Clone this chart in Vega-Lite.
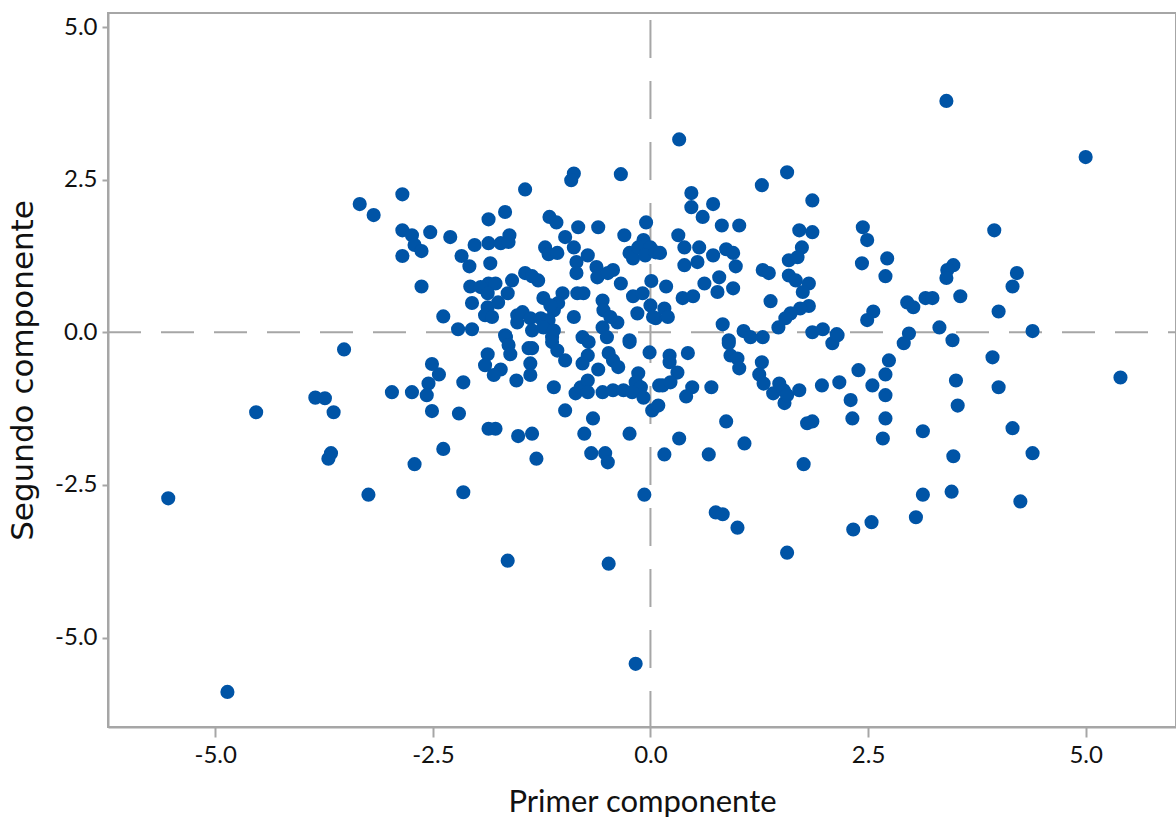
{"$schema":"https://vega.github.io/schema/vega-lite/v6.json","width":1068,"height":714,"autosize":"none","padding":{"left":108,"top":13,"right":0,"bottom":94},"background":"white","view":{"stroke":"#a6a6a6","strokeWidth":2,"fill":null},"config":{"axis":{"grid":false,"domainColor":"#a6a6a6","domainWidth":2,"tickColor":"#a6a6a6","tickWidth":2,"labelFont":"Lato","labelFontSize":24,"labelColor":"#111111","titleColor":"#111111","titleFontWeight":"normal"}},"layer":[{"data":{"values":[{"x":0}]},"mark":{"type":"rule","stroke":"#a6a6a6","strokeWidth":2,"strokeDash":[38,23],"strokeDashOffset":54},"encoding":{"x":{"field":"x","type":"quantitative","scale":{"domain":[-6.232,6.038],"nice":false,"zero":false}}}},{"data":{"values":[{"y":0}]},"mark":{"type":"rule","stroke":"#a6a6a6","strokeWidth":2,"strokeDash":[33,20],"strokeDashOffset":25},"encoding":{"y":{"field":"y","type":"quantitative","scale":{"domain":[-6.465,5.23],"nice":false,"zero":false}}}},{"data":{"values":[{"x":-3.34,"y":2.1},{"x":-3.18,"y":1.92},{"x":-2.85,"y":2.26},{"x":-2.85,"y":1.67},{"x":-2.74,"y":1.59},{"x":-2.53,"y":1.64},{"x":-2.71,"y":1.43},{"x":-2.63,"y":1.33},{"x":-2.85,"y":1.25},{"x":-2.3,"y":1.56},{"x":-2.17,"y":1.25},{"x":-2.08,"y":1.08},{"x":-2.63,"y":0.75},{"x":-2.02,"y":1.43},{"x":-1.86,"y":1.85},{"x":-1.67,"y":1.97},{"x":-1.86,"y":1.46},{"x":-1.72,"y":1.46},{"x":-1.62,"y":1.59},{"x":-1.63,"y":1.48},{"x":-1.84,"y":1.13},{"x":-1.44,"y":2.34},{"x":-1.16,"y":1.89},{"x":-1.08,"y":1.8},{"x":-0.83,"y":1.72},{"x":-0.6,"y":1.72},{"x":-0.88,"y":2.6},{"x":-0.91,"y":2.49},{"x":-0.34,"y":2.59},{"x":-0.05,"y":1.8},{"x":-0.3,"y":1.59},{"x":-0.98,"y":1.56},{"x":-0.88,"y":1.39},{"x":-1.21,"y":1.39},{"x":-1.17,"y":1.28},{"x":-1.07,"y":1.3},{"x":-0.72,"y":1.26},{"x":-0.85,"y":1.15},{"x":-0.85,"y":0.97},{"x":-0.62,"y":1.07},{"x":-0.61,"y":0.9},{"x":-0.43,"y":1.02},{"x":-0.49,"y":0.97},{"x":-0.34,"y":0.8},{"x":-0.24,"y":1.3},{"x":-0.2,"y":1.21},{"x":-0.08,"y":1.51},{"x":-0.14,"y":1.39},{"x":0,"y":1.39},{"x":-0.06,"y":1.26},{"x":0.06,"y":1.31},{"x":0.01,"y":0.84},{"x":-0.2,"y":0.59},{"x":-0.09,"y":0.64},{"x":-0.15,"y":0.31},{"x":0,"y":0.44},{"x":0.06,"y":0.23},{"x":-0.88,"y":0.25},{"x":-0.77,"y":0.64},{"x":-0.84,"y":0.64},{"x":-0.55,"y":0.52},{"x":-0.54,"y":0.36},{"x":-0.38,"y":0.16},{"x":-0.55,"y":0.08},{"x":-0.46,"y":0.25},{"x":-0.78,"y":-0.08},{"x":-0.5,"y":-0.08},{"x":-0.24,"y":-0.13},{"x":-1.59,"y":0.85},{"x":-1.44,"y":0.97},{"x":-1.29,"y":0.85},{"x":-1.36,"y":0.92},{"x":-2.07,"y":0.75},{"x":-1.86,"y":0.8},{"x":-1.95,"y":0.74},{"x":-1.78,"y":0.8},{"x":-1.64,"y":0.64},{"x":-2.05,"y":0.48},{"x":-1.87,"y":0.64},{"x":-1.87,"y":0.41},{"x":-1.75,"y":0.49},{"x":-1.9,"y":0.28},{"x":-1.82,"y":0.25},{"x":-2.38,"y":0.26},{"x":-2.21,"y":0.05},{"x":-2.05,"y":0.05},{"x":-1.67,"y":-0.05},{"x":-1.23,"y":0.56},{"x":-1.01,"y":0.64},{"x":-1.53,"y":0.28},{"x":-1.47,"y":0.33},{"x":-1.38,"y":0.23},{"x":-1.53,"y":0.16},{"x":-1.26,"y":0.23},{"x":-1.11,"y":0.36},{"x":-1.06,"y":0.48},{"x":-1.15,"y":0.44},{"x":-1.17,"y":0.2},{"x":-1.36,"y":0.03},{"x":-1.23,"y":0.08},{"x":-1.11,"y":0.03},{"x":-1.13,"y":-0.08},{"x":-3.52,"y":-0.28},{"x":-2.97,"y":-0.98},{"x":-2.74,"y":-0.98},{"x":-2.51,"y":-0.52},{"x":-2.43,"y":-0.69},{"x":-2.55,"y":-0.84},{"x":-2.57,"y":-1.03},{"x":-2.51,"y":-1.29},{"x":-2.15,"y":-0.82},{"x":-2.2,"y":-1.33},{"x":-2.38,"y":-1.91},{"x":-2.71,"y":-2.16},{"x":-3.24,"y":-2.66},{"x":-2.15,"y":-2.62},{"x":-1.86,"y":-1.58},{"x":-1.78,"y":-1.58},{"x":-1.52,"y":-1.7},{"x":-1.36,"y":-1.66},{"x":-1.31,"y":-2.07},{"x":-1.87,"y":-0.36},{"x":-1.9,"y":-0.54},{"x":-1.72,"y":-0.61},{"x":-1.8,"y":-0.7},{"x":-1.66,"y":-0.08},{"x":-1.63,"y":-0.21},{"x":-1.61,"y":-0.36},{"x":-1.54,"y":-0.79},{"x":-1.4,"y":-0.26},{"x":-1.36,"y":-0.26},{"x":-1.38,"y":-0.51},{"x":-1.38,"y":-0.7},{"x":-1.11,"y":-0.9},{"x":-1.13,"y":-0.16},{"x":-1.07,"y":-0.3},{"x":-0.98,"y":-0.46},{"x":-0.71,"y":-0.16},{"x":-0.72,"y":-0.38},{"x":-0.78,"y":-0.51},{"x":-0.6,"y":-0.61},{"x":-0.86,"y":-1},{"x":-0.8,"y":-0.9},{"x":-0.72,"y":-0.79},{"x":-0.72,"y":-0.98},{"x":-0.48,"y":-0.34},{"x":-0.43,"y":-0.46},{"x":-0.37,"y":-0.57},{"x":-0.24,"y":-0.16},{"x":-0.01,"y":-0.33},{"x":-0.55,"y":-0.98},{"x":-0.43,"y":-0.95},{"x":-0.31,"y":-0.95},{"x":-0.14,"y":-0.67},{"x":-0.17,"y":-0.82},{"x":-0.11,"y":-0.9},{"x":-0.21,"y":-0.98},{"x":-0.08,"y":-1.07},{"x":0.02,"y":-1.28},{"x":0.09,"y":-1.2},{"x":-0.98,"y":-1.28},{"x":-0.66,"y":-1.41},{"x":-0.76,"y":-1.66},{"x":-0.24,"y":-1.66},{"x":-0.68,"y":-1.98},{"x":-0.52,"y":-1.98},{"x":-0.49,"y":-2.13},{"x":-0.07,"y":-2.66},{"x":0.1,"y":-0.87},{"x":0.33,"y":3.16},{"x":0.47,"y":2.28},{"x":0.47,"y":2.05},{"x":0.72,"y":2.1},{"x":0.6,"y":1.89},{"x":0.82,"y":1.75},{"x":1.02,"y":1.75},{"x":0.32,"y":1.59},{"x":0.39,"y":1.39},{"x":0.56,"y":1.39},{"x":0.54,"y":1.15},{"x":0.39,"y":1.1},{"x":0.72,"y":1.26},{"x":0.87,"y":1.36},{"x":0.95,"y":1.3},{"x":0.98,"y":1.08},{"x":0.11,"y":1.3},{"x":0.18,"y":0.75},{"x":0.62,"y":0.8},{"x":0.79,"y":0.9},{"x":0.77,"y":0.66},{"x":0.95,"y":0.72},{"x":0.37,"y":0.56},{"x":0.49,"y":0.59},{"x":0.16,"y":0.39},{"x":0.2,"y":0.25},{"x":0.03,"y":0.25},{"x":0.83,"y":0.13},{"x":1.07,"y":0.02},{"x":1.29,"y":-0.08},{"x":1.15,"y":-0.08},{"x":0.9,"y":-0.13},{"x":1.57,"y":2.62},{"x":1.28,"y":2.41},{"x":1.86,"y":2.16},{"x":1.71,"y":1.67},{"x":1.86,"y":1.64},{"x":1.74,"y":1.39},{"x":1.59,"y":1.18},{"x":1.69,"y":1.23},{"x":1.29,"y":1.02},{"x":1.36,"y":0.97},{"x":1.59,"y":0.93},{"x":1.67,"y":0.85},{"x":1.82,"y":0.8},{"x":1.75,"y":0.66},{"x":1.38,"y":0.51},{"x":1.82,"y":0.43},{"x":1.72,"y":0.39},{"x":1.61,"y":0.31},{"x":1.55,"y":0.23},{"x":1.47,"y":0.08},{"x":1.86,"y":0},{"x":1.98,"y":0.05},{"x":2.14,"y":-0.03},{"x":2.44,"y":1.72},{"x":2.49,"y":1.51},{"x":2.43,"y":1.13},{"x":2.72,"y":1.21},{"x":2.7,"y":0.92},{"x":2.56,"y":0.34},{"x":2.49,"y":0.2},{"x":2.95,"y":0.49},{"x":3.02,"y":0.41},{"x":3.16,"y":0.56},{"x":3.24,"y":0.56},{"x":3.48,"y":1.1},{"x":3.41,"y":1.02},{"x":3.4,"y":0.89},{"x":3.56,"y":0.59},{"x":3.32,"y":0.08},{"x":2.97,"y":-0.02},{"x":3.47,"y":-0.13},{"x":0.22,"y":-0.38},{"x":0.22,"y":-0.49},{"x":0.43,"y":-0.34},{"x":0.31,"y":-0.66},{"x":0.14,"y":-0.87},{"x":0.23,"y":-0.82},{"x":0.48,"y":-0.9},{"x":0.41,"y":-1.05},{"x":0.7,"y":-0.9},{"x":0.87,"y":-1.46},{"x":0.33,"y":-1.74},{"x":0.16,"y":-2},{"x":0.67,"y":-2},{"x":1.08,"y":-1.82},{"x":1.76,"y":-2.16},{"x":1.86,"y":-1.46},{"x":1.8,"y":-1.49},{"x":0.75,"y":-2.95},{"x":0.83,"y":-2.98},{"x":1,"y":-3.2},{"x":0.9,"y":-0.18},{"x":0.92,"y":-0.38},{"x":1,"y":-0.43},{"x":1.02,"y":-0.59},{"x":1.28,"y":-0.49},{"x":1.25,"y":-0.69},{"x":1.3,"y":-0.84},{"x":1.41,"y":-1},{"x":1.48,"y":-0.84},{"x":1.53,"y":-0.95},{"x":1.54,"y":-1.16},{"x":1.57,"y":-1.03},{"x":1.71,"y":-0.95},{"x":1.97,"y":-0.87},{"x":2.17,"y":-0.82},{"x":2.39,"y":-0.62},{"x":2.55,"y":-0.87},{"x":2.3,"y":-1.11},{"x":2.32,"y":-1.41},{"x":2.7,"y":-1.41},{"x":2.7,"y":-1.03},{"x":2.7,"y":-0.69},{"x":2.74,"y":-0.46},{"x":2.67,"y":-1.74},{"x":3.13,"y":-1.62},{"x":3.51,"y":-0.79},{"x":3.53,"y":-1.2},{"x":3.48,"y":-2.03},{"x":3.46,"y":-2.61},{"x":3.13,"y":-2.66},{"x":3.05,"y":-3.03},{"x":2.54,"y":-3.11},{"x":2.33,"y":-3.23},{"x":2.91,"y":-0.18},{"x":2.09,"y":-0.18},{"x":2.15,"y":-0.05},{"x":3.4,"y":3.79},{"x":5,"y":2.87},{"x":3.95,"y":1.67},{"x":4.21,"y":0.97},{"x":4.16,"y":0.75},{"x":4,"y":0.34},{"x":4.39,"y":0.02},{"x":5.4,"y":-0.74},{"x":3.93,"y":-0.41},{"x":4,"y":-0.9},{"x":4.16,"y":-1.57},{"x":4.39,"y":-1.98},{"x":4.25,"y":-2.77},{"x":-5.54,"y":-2.72},{"x":-4.86,"y":-5.89},{"x":-4.53,"y":-1.31},{"x":-3.85,"y":-1.07},{"x":-3.74,"y":-1.08},{"x":-3.64,"y":-1.31},{"x":-3.67,"y":-1.98},{"x":-3.7,"y":-2.07},{"x":-1.64,"y":-3.74},{"x":-0.48,"y":-3.79},{"x":-0.17,"y":-5.43},{"x":1.57,"y":-3.61}]},"mark":{"type":"circle","size":200,"color":"#0054a6","opacity":1},"encoding":{"x":{"field":"x","type":"quantitative","scale":{"domain":[-6.232,6.038],"nice":false,"zero":false},"axis":{"values":[-5,-2.5,0,2.5,5],"format":".1f","title":"Primer componente","titleFont":"Lato","titleFontSize":31,"tickSize":10,"titlePadding":20,"labelPadding":6,"labelExpr":"replace(datum.label,'−','-')"}},"y":{"field":"y","type":"quantitative","scale":{"domain":[-6.465,5.23],"nice":false,"zero":false},"axis":{"values":[-5,-2.5,0,2.5,5],"format":".1f","title":"Segundo componente","titleFont":"DejaVu Sans","titleFontSize":31,"tickSize":6,"titlePadding":15,"labelPadding":5,"labelExpr":"replace(datum.label,'−','-')"}}}}]}
